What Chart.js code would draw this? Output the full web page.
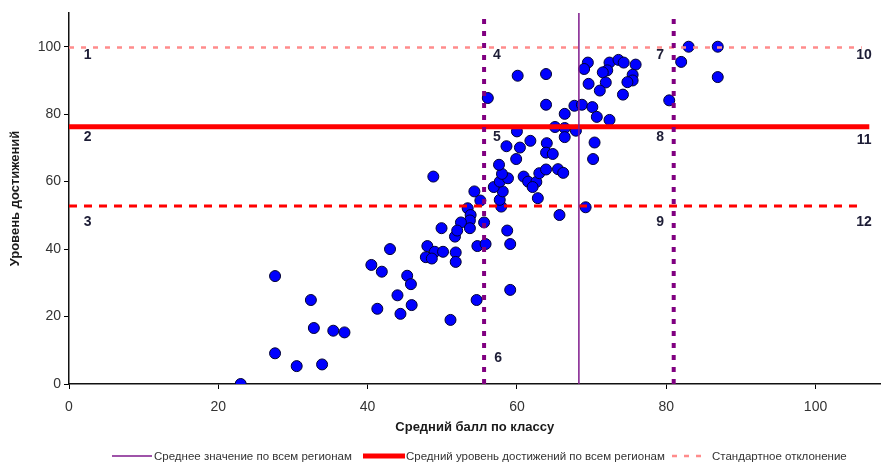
<!DOCTYPE html>
<html>
<head>
<meta charset="utf-8">
<script src="https://cdn.jsdelivr.net/npm/chart.js@4/dist/chart.umd.min.js"></script>
<style>
  html, body { margin: 0; padding: 0; background: #ffffff; }
  #wrap { width: 887px; height: 466px; }
</style>
</head>
<body>
<div id="wrap"><canvas id="chart" width="887" height="466"></canvas></div>
<script>
// Средний балл по классу (x) и уровень достижений (y) для каждого класса
const classScore = [
  27.6, 43.0, 40.5, 41.9, 45.3, 45.8, 44.0, 45.9, 41.3, 44.4, 32.4, 32.8, 35.4, 36.9, 27.6, 30.5, 33.9, 23.0,
  53.4, 53.8, 53.7, 52.5, 51.7, 52.0, 53.7, 55.6, 54.7, 55.8, 49.9, 48.0, 49.0, 50.1, 47.8, 48.6, 51.8, 51.8,
  51.1, 54.6, 59.1, 58.7, 59.1, 54.3, 55.1, 57.9, 57.7, 58.1, 56.9, 57.7, 58.8, 58.0, 57.6, 59.9, 60.9, 48.8,
  61.5, 62.6, 62.1, 63.0, 63.9, 65.5, 66.2, 62.8, 58.6, 60.4, 61.8, 64.0, 63.9, 64.8, 60.0, 65.1, 66.4, 67.9,
  66.4, 70.4, 70.2, 69.2, 65.7, 56.1, 60.1, 63.9, 63.9, 66.4, 67.7, 68.7, 70.1, 70.7, 72.4, 69.5, 69.0, 72.4,
  73.6, 74.3, 75.9, 72.1, 71.5, 75.5, 75.5, 74.8, 71.9, 69.6, 71.1, 74.2, 80.4, 82.0, 83.0, 86.9, 86.9
];
const achievement = [
  32.0, 40.0, 35.3, 33.3, 32.1, 29.6, 26.3, 23.4, 22.3, 20.8, 24.9, 16.6, 15.8, 15.3, 9.1, 5.3, 5.8, 0.0,
  52.1, 50.1, 48.5, 47.9, 43.7, 45.5, 46.2, 47.9, 40.9, 41.5, 46.2, 40.9, 39.2, 39.2, 37.6, 37.2, 39.0, 36.2,
  19.0, 24.9, 27.9, 45.5, 41.5, 57.1, 54.4, 52.6, 54.6, 57.1, 58.4, 60.0, 61.0, 62.3, 65.0, 66.7, 61.5, 61.5,
  60.0, 59.9, 58.4, 62.5, 63.6, 63.7, 62.6, 55.1, 70.5, 70.1, 72.1, 71.4, 68.6, 68.2, 74.9, 76.2, 75.9, 75.1,
  73.2, 71.6, 66.7, 52.4, 50.1, 84.8, 91.4, 91.9, 82.8, 80.1, 82.5, 82.8, 82.1, 79.2, 78.3, 95.3, 93.4, 95.3,
  96.1, 95.3, 94.7, 93.0, 92.4, 91.7, 90.0, 89.5, 89.4, 89.0, 87.0, 85.8, 84.1, 95.5, 100.0, 100.0, 91.0
];

// Средние по всем регионам и стандартные отклонения
const meanScore = 68.3;
const sdScore = 12.7;
const meanAchievement = 76.3;
const sdAchievement = 23.5;
const lineEndScore = 107.2;     // где заканчиваются горизонтальные линии
const dashedEndScore = 106.2;

const xTickValues = [0, 20, 40, 60, 80, 100];
const yTickValues = [0, 20, 40, 60, 80, 100];

// Номера зон и их координаты (в единицах осей)
const zoneNames = ['1', '2', '3', '4', '5', '6', '7', '8', '9', '10', '11', '12'];
const zoneScore = [2.5, 2.5, 2.5, 57.3, 57.3, 57.5, 79.2, 79.2, 79.2, 106.5, 106.5, 106.5];
const zoneAchievement = [97.6, 73.3, 48.1, 97.6, 73.3, 7.7, 97.6, 73.3, 48.1, 97.6, 72.4, 48.1];

const legendNames = [
  'Среднее значение по всем регионам',
  'Средний уровень достижений по всем регионам',
  'Стандартное отклонение'
];

const FONT = "'Liberation Sans', Arial, sans-serif";

const points = classScore.map((x, i) => ({ x, y: achievement[i] }));
const vLine = (x) => [{ x, y: 0 }, { x, y: 110 }];
const hLine = (y, end) => [{ x: 0, y }, { x: end, y }];

const lineBase = { type: 'line', pointRadius: 0, fill: false, tension: 0, order: 0, showLine: true };

const datasets = [
  Object.assign({}, lineBase, {
    label: legendNames[0], legendIndex: 0,
    data: vLine(meanScore), borderColor: '#7f1a8c', borderWidth: 1.5
  }),
  Object.assign({}, lineBase, {
    label: 'sdScoreLow',
    data: vLine(meanScore - sdScore), borderColor: '#800080', borderWidth: 4, borderDash: [5, 7]
  }),
  Object.assign({}, lineBase, {
    label: 'sdScoreHigh',
    data: vLine(meanScore + sdScore), borderColor: '#800080', borderWidth: 4, borderDash: [5, 7]
  }),
  Object.assign({}, lineBase, {
    label: legendNames[1], legendIndex: 1,
    data: hLine(meanAchievement, lineEndScore), borderColor: '#ff0000', borderWidth: 5
  }),
  Object.assign({}, lineBase, {
    label: 'sdAchLow',
    data: hLine(meanAchievement - sdAchievement, dashedEndScore), borderColor: '#ff0000', borderWidth: 3, borderDash: [8, 7]
  }),
  Object.assign({}, lineBase, {
    label: legendNames[2], legendIndex: 2,
    data: hLine(meanAchievement + sdAchievement, dashedEndScore), borderColor: '#ff8c8c', borderWidth: 2.5, borderDash: [5, 7]
  }),
  {
    type: 'scatter',
    label: 'Классы',
    data: points,
    order: 1,
    pointRadius: 5.5,
    pointHoverRadius: 5.5,
    pointBorderWidth: 1,
    pointBackgroundColor: '#0000ff',
    pointBorderColor: '#000033',
    showLine: false
  }
];

// Номера зон поверх точек
const zoneNumbersPlugin = {
  id: 'zoneNumbers',
  afterDatasetsDraw(chart) {
    const { ctx, scales: { x, y } } = chart;
    ctx.save();
    ctx.font = 'bold 14px ' + FONT;
    ctx.fillStyle = '#1d1d36';
    ctx.textAlign = 'center';
    ctx.textBaseline = 'middle';
    zoneNames.forEach((t, i) => {
      ctx.fillText(t, x.getPixelForValue(zoneScore[i]), y.getPixelForValue(zoneAchievement[i]));
    });
    ctx.restore();
  }
};

// Подпись линий внизу рисунка
const bottomLegendPlugin = {
  id: 'bottomLegend',
  afterDraw(chart, args, opts) {
    const { ctx } = chart;
    const items = chart.data.datasets.filter(d => d.legendIndex !== undefined)
      .sort((a, b) => a.legendIndex - b.legendIndex);
    ctx.save();
    ctx.font = opts.fontSize + 'px ' + FONT;
    ctx.textBaseline = 'middle';
    ctx.textAlign = 'left';
    items.forEach((d, i) => {
      const s = opts.slots[i];
      ctx.beginPath();
      ctx.strokeStyle = d.borderColor;
      ctx.lineWidth = d.borderWidth;
      ctx.setLineDash(d.borderDash || []);
      ctx.moveTo(s[0], opts.y);
      ctx.lineTo(s[1], opts.y);
      ctx.stroke();
      ctx.setLineDash([]);
      ctx.fillStyle = '#333333';
      ctx.fillText(d.label, s[2], opts.y + 1);
    });
    ctx.restore();
  }
};

new Chart(document.getElementById('chart'), {
  data: { datasets },
  options: {
    responsive: false,
    animation: false,
    devicePixelRatio: 1,
    layout: { padding: { top: 13, right: 3, bottom: 0, left: 0 } },
    plugins: {
      legend: { display: false },
      tooltip: { enabled: false },
      bottomLegend: {
        y: 456,
        fontSize: 11.5,
        slots: [[112, 152, 154], [363, 405, 406], [672, 705, 712]]
      }
    },
    scales: {
      x: {
        type: 'linear',
        min: 0,
        max: 108.7,
        afterBuildTicks(scale) { scale.ticks = xTickValues.map(v => ({ value: v })); },
        afterFit(scale) { scale.height = 82; },
        grid: { display: true, drawOnChartArea: false, drawTicks: true, tickLength: 5, color: '#000000', lineWidth: 1 },
        border: { display: true, color: '#111111', width: 1.5 },
        ticks: { color: '#333333', padding: 10, font: { family: FONT, size: 14 } },
        title: {
          display: true,
          text: 'Средний балл по классу',
          color: '#1a1a1a',
          font: { family: FONT, size: 13, weight: 'bold' },
          padding: { top: 0, bottom: 31 }
        }
      },
      y: {
        type: 'linear',
        min: 0,
        max: 110,
        afterBuildTicks(scale) { scale.ticks = yTickValues.map(v => ({ value: v })); },
        afterFit(scale) { scale.width = 69; },
        grid: { display: true, drawOnChartArea: false, drawTicks: true, tickLength: 5, color: '#000000', lineWidth: 1 },
        border: { display: true, color: '#111111', width: 1.5 },
        ticks: { color: '#333333', padding: 3, font: { family: FONT, size: 14 } },
        title: {
          display: true,
          text: 'Уровень достижений',
          color: '#1a1a1a',
          font: { family: FONT, size: 13, weight: 'bold' },
          padding: { top: 8, bottom: 0 }
        }
      }
    }
  },
  plugins: [zoneNumbersPlugin, bottomLegendPlugin]
});
</script>
</body>
</html>
